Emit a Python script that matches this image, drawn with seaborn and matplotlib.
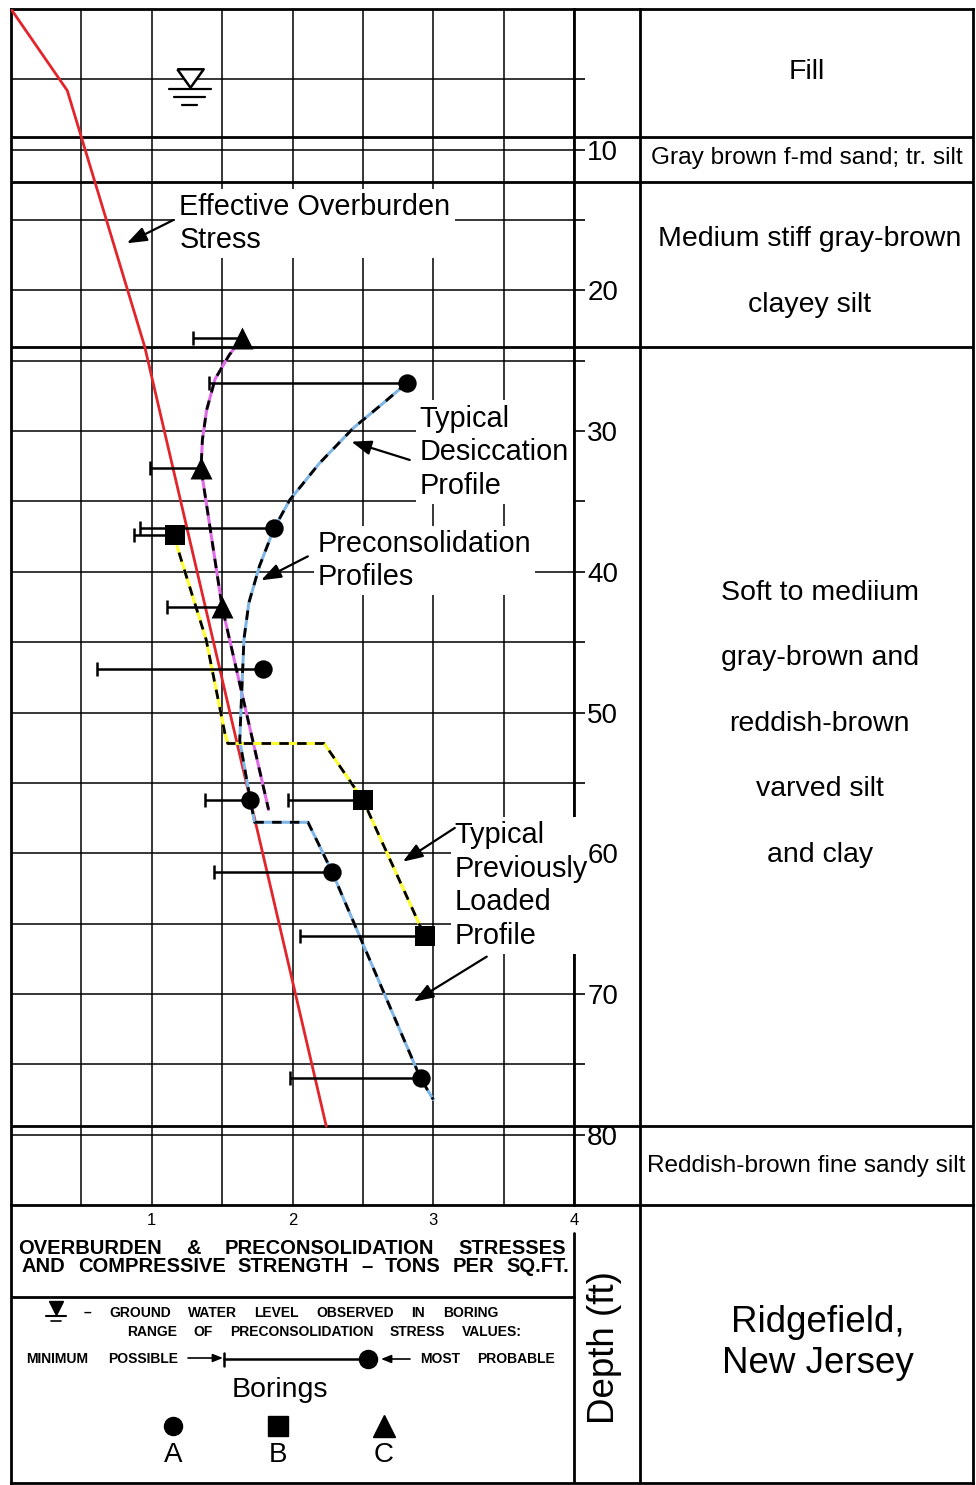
import numpy as np
import pandas as pd
import seaborn as sns
import matplotlib.pyplot as plt

# ---- valores (esfuerzo en tsf, profundidad en ft) ----
# esfuerzo efectivo de sobrecarga
overburden_x = [0.0, 0.40, 0.95, 2.24]
overburden_d = [0.0, 5.8, 24.0, 79.4]

# perfiles de preconsolidacion (boring C magenta, A azul, B amarillo)
profile_c_x = [1.64, 1.55, 1.45, 1.39, 1.36, 1.35, 1.50, 1.83]
profile_c_d = [23.4, 24.6, 26.3, 28.5, 30.6, 32.65, 42.5, 56.9]
profile_a_x = [2.81, 2.67, 2.43, 2.19, 1.98, 1.87, 1.765, 1.69, 1.655, 1.635,
               1.625, 1.70, 1.73, 2.11, 2.28, 2.91, 3.00]
profile_a_d = [26.6, 27.8, 29.8, 32.3, 34.9, 36.9, 39.6, 42.2, 44.8, 49.6,
               52.0, 56.2, 57.8, 57.8, 61.3, 76.0, 77.5]
profile_b_x = [1.167, 1.18, 1.386, 1.52, 1.54, 2.225, 2.50, 2.94]
profile_b_d = [37.4, 38.2, 44.8, 51.5, 52.2, 52.2, 56.2, 65.9]

# borings: valor mas probable, minimo posible, profundidad
a_most = [2.81, 1.87, 1.79, 1.70, 2.28, 2.91]
a_min = [1.41, 0.92, 0.61, 1.38, 1.44, 1.98]
a_depth = [26.6, 36.9, 46.9, 56.2, 61.3, 76.0]
b_most = [1.167, 2.50, 2.94]
b_min = [0.875, 1.97, 2.05]
b_depth = [37.4, 56.2, 65.9]
c_most = [1.64, 1.35, 1.50]
c_min = [1.29, 0.99, 1.11]
c_depth = [23.4, 32.65, 42.5]

# nivel freatico
water_x = 1.27
water_depth = 5.7

# estratos
layer_bounds = [9.1, 12.3, 24.0, 79.4]
soil_names = ['Fill',
              'Gray brown f-md sand; tr. silt',
              'Medium stiff gray-brown\nclayey silt',
              'Soft to mediium\ngray-brown and\nreddish-brown\nvarved silt\nand clay',
              'Reddish-brown fine sandy silt']
soil_depth = [4.5, 10.6, 18.7, 50.8, 82.2]
soil_pos = [0.50, 0.50, 0.51, 0.54, 0.50]
soil_size = [20.5, 17.6, 20.5, 20.5, 17.6]

depth_ticks = list(range(5, 81, 5))
depth_labels = list(range(10, 81, 10))
stress_ticks = [0.5, 1.0, 1.5, 2.0, 2.5, 3.0, 3.5, 4.0]

# anotaciones: texto, x izquierda, profundidad centro
notes = [('Effective Overburden\nStress', 1.196, 15.25),
         ('Typical\nDesiccation\nProfile', 2.904, 31.5),
         ('Preconsolidation\nProfiles', 2.178, 39.2),
         ('Typical\nPreviously\nLoaded\nProfile', 3.153, 62.3)]
arrows = [((1.153, 15.0), (0.823, 16.65)),
          ((2.833, 32.05), (2.418, 30.75)),
          ((2.109, 38.9), (1.777, 40.6)),
          ((3.153, 58.2), (2.784, 60.6)),
          ((3.38, 67.35), (2.861, 70.55))]

# ---- estilo ----
sns.set_theme(style='white', rc={'axes.edgecolor': 'black', 'text.color': 'black',
                                 'xtick.color': 'black', 'ytick.color': 'black'})
plt.rcParams['font.family'] = ['Liberation Sans', 'DejaVu Sans']

W, H = 976, 1485
fig = plt.figure(figsize=(W / 100, H / 100), dpi=100, facecolor='white')


def px_axes(x0, y0, x1, y1):
    return fig.add_axes([x0 / W, 1 - y1 / H, (x1 - x0) / W, (y1 - y0) / H])


ax = px_axes(11, 9, 574, 1205)
ax_mid = px_axes(574, 9, 640, 1205)
ax_soil = px_axes(640, 9, 973, 1205)
ax_leg = px_axes(11, 1205, 973, 1483)

# ---- grafico principal ----
sns.lineplot(x=overburden_x, y=overburden_d, sort=False, estimator=None,
             color='#e3242b', lw=2, ax=ax, zorder=4)
for xs, ds, col in [(profile_c_x, profile_c_d, '#e06be8'),
                    (profile_a_x, profile_a_d, '#80b6e6'),
                    (profile_b_x, profile_b_d, '#ffff2e')]:
    sns.lineplot(x=xs, y=ds, sort=False, estimator=None, color=col, lw=2.2, ax=ax, zorder=4)
    sns.lineplot(x=xs, y=ds, sort=False, estimator=None, color='black', lw=2.0,
                 linestyle=(0, (3.4, 3.0)), ax=ax, zorder=4.5)

for most, mins, dep, mk, s in [(a_most, a_min, a_depth, 'o', 175),
                               (b_most, b_min, b_depth, 's', 200),
                               (c_most, c_min, c_depth, '^', 250)]:
    ax.errorbar(most, dep, xerr=[np.subtract(most, mins), np.zeros(len(most))],
                fmt='none', ecolor='black', elinewidth=1.8, capsize=5, capthick=1.8, zorder=5)
    sns.scatterplot(x=most, y=dep, marker=mk, s=s, color='black', linewidth=0, ax=ax, zorder=6)

# simbolo nivel freatico
ax.plot(water_x, water_depth - 0.8, marker=[(-1, 0.7), (1, 0.7), (0, -0.7), (-1, 0.7)], ms=19,
        mfc='white', mec='black', mew=1.8, zorder=6)
for w, dd in [(0.30, 0), (0.22, 0.56), (0.11, 1.13)]:
    ax.plot([water_x - w / 2, water_x + w / 2], [water_depth + dd] * 2, color='black', lw=1.6, zorder=6)

for txt, x, d in notes:
    ax.text(x, d, txt, ha='left', va='center', fontsize=20.8, linespacing=1.26, zorder=3,
            bbox=dict(fc='white', ec='none', pad=3))
for tail, head in arrows:
    ax.annotate('', xy=head, xytext=tail, zorder=5,
                arrowprops=dict(arrowstyle='-|>,head_length=0.6,head_width=0.22',
                                color='black', lw=1.6, mutation_scale=20, shrinkA=0, shrinkB=0))

ax.set_xlim(0, 4)
ax.set_ylim(85, 0)
ax.set_xticks(stress_ticks)
ax.set_xticklabels([f'{v:g}' if v % 1 == 0 else '' for v in stress_ticks])
ax.set_yticks(depth_ticks)
ax.yaxis.tick_right()
ax.tick_params(axis='y', right=True, left=False, direction='out', length=8, width=1.2,
               labelright=False)
ax.tick_params(axis='x', length=0, labelsize=12, pad=6)
ax.grid(True, color='black', lw=1.1)
ax.set_xlabel('')
ax.set_ylabel('')
for sp in ax.spines.values():
    sp.set_linewidth(2)

# columnas de la derecha
for a in (ax, ax_mid, ax_soil):
    for d in layer_bounds:
        a.axhline(d, color='black', lw=2, zorder=2)
for a in (ax_mid, ax_soil):
    a.set_xlim(0, 1)
    a.set_ylim(85, 0)
    a.set_xticks([])
    a.set_yticks([])
    a.patch.set_alpha(0)
    for sp in a.spines.values():
        sp.set_linewidth(2)
ax_mid.spines['left'].set_visible(False)
ax_mid.spines['right'].set_visible(False)

# etiquetas de profundidad (encima de los recuadros de texto)
for d in depth_labels:
    ax_mid.text(0.2, d, str(d), ha='left', va='center_baseline', fontsize=20)

for name, d, x, fs in zip(soil_names, soil_depth, soil_pos, soil_size):
    ax_soil.text(x, d, name, ha='center', va='center', fontsize=fs, linespacing=2.97,
                 multialignment='center')

# ---- panel inferior (leyenda) ----
ax_leg.set_xlim(11, 973)
ax_leg.set_ylim(1483, 1205)
ax_leg.set_xticks([])
ax_leg.set_yticks([])
ax_leg.patch.set_alpha(0)
ax_leg.spines['top'].set_visible(False)
for sp in ax_leg.spines.values():
    sp.set_linewidth(2)
ax_leg.plot([574, 574], [1233, 1483], color='black', lw=2)
ax_leg.plot([640, 640], [1205, 1483], color='black', lw=2)
ax_leg.plot([11, 574], [1297, 1297], color='black', lw=2)

renderer = fig.canvas.get_renderer()


def justify(words, x0, x1, y, **kw):
    ts = [ax_leg.text(0, y, w, ha='left', va='center', **kw) for w in words]
    inv = ax_leg.transData.inverted()
    widths = []
    for t in ts:
        bb = t.get_window_extent(renderer)
        widths.append(inv.transform((bb.x1, bb.y0))[0] - inv.transform((bb.x0, bb.y0))[0])
    gap = (x1 - x0 - sum(widths)) / (len(words) - 1)
    x = x0
    for t, w in zip(ts, widths):
        t.set_x(x)
        x += w + gap


justify(['OVERBURDEN', '&', 'PRECONSOLIDATION', 'STRESSES'], 18, 566, 1248,
        fontsize=14.5, fontweight='bold')
justify(['AND', 'COMPRESSIVE', 'STRENGTH', '\u2013', 'TONS', 'PER', 'SQ.FT.'], 22, 569, 1267,
        fontsize=14.5, fontweight='bold')
justify(['\u2013', 'GROUND', 'WATER', 'LEVEL', 'OBSERVED', 'IN', 'BORING'], 84, 498, 1313,
        fontsize=10, fontweight='bold')
justify(['RANGE', 'OF', 'PRECONSOLIDATION', 'STRESS', 'VALUES:'], 127, 522, 1332,
        fontsize=10, fontweight='bold')
justify(['MINIMUM', 'POSSIBLE'], 26, 178, 1359, fontsize=10, fontweight='bold')
justify(['MOST', 'PROBABLE'], 420, 555, 1359, fontsize=10, fontweight='bold')

# simbolos de la leyenda
ax_leg.plot(56, 1308, marker='v', ms=10, color='black')
ax_leg.plot([46, 66], [1316, 1316], color='black', lw=1.5)
ax_leg.plot([51, 61], [1321, 1321], color='black', lw=1.2)
ax_leg.annotate('', xy=(223, 1358), xytext=(188, 1358),
                arrowprops=dict(arrowstyle='-|>,head_length=0.5,head_width=0.2', color='black',
                                lw=1.2, mutation_scale=12, shrinkA=0, shrinkB=0))
ax_leg.annotate('', xy=(381, 1359), xytext=(410, 1359),
                arrowprops=dict(arrowstyle='-|>,head_length=0.5,head_width=0.2', color='black',
                                lw=1.2, mutation_scale=12, shrinkA=0, shrinkB=0))
ax_leg.plot([224, 368], [1359, 1359], color='black', lw=1.8)
ax_leg.plot([224, 224], [1353, 1366], color='black', lw=1.8)
ax_leg.plot(368, 1359, marker='o', ms=13, color='black')

ax_leg.text(280, 1390, 'Borings', ha='center', va='center', fontsize=20.5)
for x, mk, ms, lab in [(173, 'o', 13, 'A'), (278, 's', 14, 'B'), (384, '^', 16, 'C')]:
    ax_leg.plot(x, 1426, marker=mk, ms=ms, color='black')
    ax_leg.text(x, 1455, lab, ha='center', va='center', fontsize=20)

ax_leg.text(605, 1348, 'Depth (ft)', rotation=90, ha='center', va='center', fontsize=26.5)
ax_leg.text(818, 1343, 'Ridgefield,\nNew Jersey', ha='center', va='center', fontsize=26.5,
            linespacing=1.25)

fig.savefig('out.png', dpi=100, facecolor='white')
